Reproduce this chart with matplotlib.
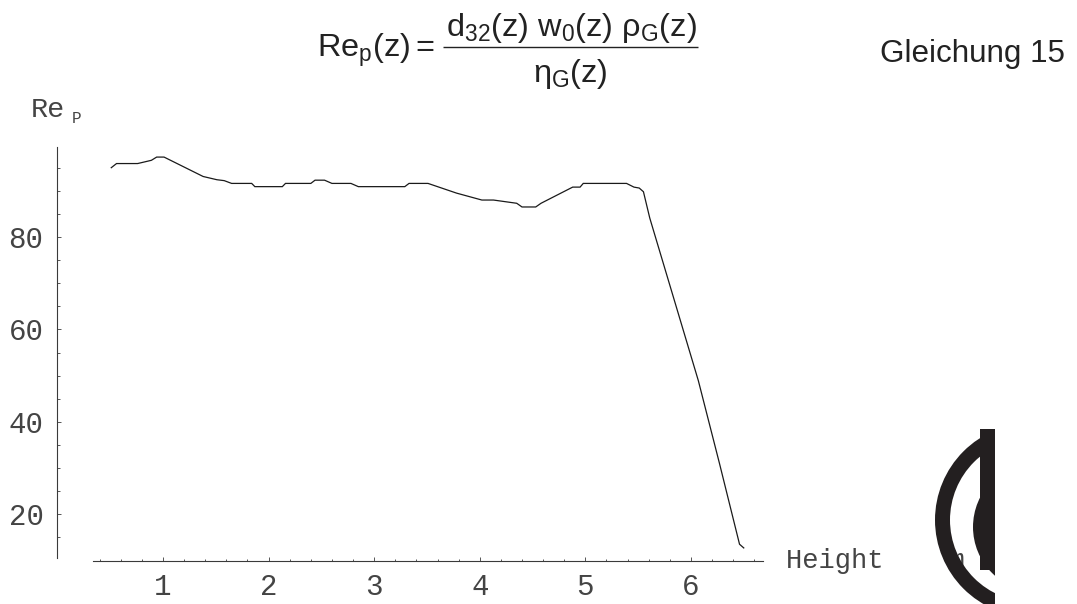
import matplotlib
matplotlib.use("Agg")
import matplotlib.pyplot as plt
from matplotlib.patches import Circle, Rectangle
from matplotlib.ticker import FixedLocator

# Particle Reynolds number along the column height
height_m = [0.51, 0.56, 0.76, 0.89, 0.94, 1.01, 1.38, 1.51, 1.58, 1.65, 1.84,
            1.87, 2.13, 2.16, 2.40, 2.44, 2.53, 2.60, 2.78, 2.85, 3.29, 3.33,
            3.51, 3.78, 4.02, 4.13, 4.35, 4.40, 4.53, 4.58, 4.88, 4.95, 4.98,
            5.39, 5.46, 5.51, 5.55, 5.61, 6.07, 6.27, 6.46, 6.50]
re_p = [95.0, 95.9, 95.9, 96.6, 97.3, 97.3, 93.1, 92.4, 92.2, 91.6, 91.6,
        90.9, 90.9, 91.6, 91.6, 92.3, 92.3, 91.6, 91.6, 90.9, 90.9, 91.6,
        91.6, 89.5, 88.0, 88.0, 87.3, 86.5, 86.5, 87.3, 90.8, 90.8, 91.6,
        91.6, 90.8, 90.6, 89.8, 84.1, 48.9, 31.0, 13.5, 12.7]

x_major = [1, 2, 3, 4, 5, 6]
x_minor = [0.4, 0.6, 0.8, 1.2, 1.4, 1.6, 1.8, 2.2, 2.4, 2.6, 2.8, 3.2, 3.4,
           3.6, 3.8, 4.2, 4.4, 4.6, 4.8, 5.2, 5.4, 5.6, 5.8, 6.2, 6.4, 6.6]
y_major = [20, 40, 60, 80]
y_minor = [15, 25, 30, 35, 45, 50, 55, 65, 70, 75, 85, 90, 95]

W, H = 1077, 604
fig = plt.figure(figsize=(W / 100, H / 100), dpi=100)
fig.patch.set_facecolor("white")

mono = "Liberation Mono"
sans = "Liberation Sans"
plt.rcParams["mathtext.fontset"] = "custom"
plt.rcParams["mathtext.rm"] = sans
plt.rcParams["mathtext.it"] = sans
plt.rcParams["mathtext.default"] = "regular"

axis_col = "#3a3a3a"
text_col = "#444444"

ax = fig.add_axes([0, 0, 1, 1])
ax.set_xlim(-0.5436, 9.656)
ax.set_ylim(0.563, 131.30)
ax.patch.set_alpha(0)

ax.plot(height_m, re_p, color="#1a1a1a", lw=0.9, solid_joinstyle="miter")

for s in ("top", "right"):
    ax.spines[s].set_visible(False)
ax.spines["left"].set_position(("data", 0))
ax.spines["left"].set_bounds(10.5, 99.5)
ax.spines["bottom"].set_position(("data", 9.9))
ax.spines["bottom"].set_bounds(0.34, 6.68)
for s in ("left", "bottom"):
    ax.spines[s].set_color(axis_col)
    ax.spines[s].set_linewidth(0.8)

ax.xaxis.set_major_locator(FixedLocator(x_major))
ax.xaxis.set_minor_locator(FixedLocator(x_minor))
ax.yaxis.set_major_locator(FixedLocator(y_major))
ax.yaxis.set_minor_locator(FixedLocator(y_minor))
ax.set_xticklabels([str(v) for v in x_major])
ax.set_yticklabels([str(v) for v in y_major])

ax.tick_params(axis="both", which="both", direction="in", color=axis_col,
               width=0.6, labelcolor=text_col)
ax.tick_params(axis="y", which="major", length=3.2, pad=10)
ax.tick_params(axis="y", which="minor", length=2.4)
ax.tick_params(axis="x", which="major", length=2.6, pad=9)
ax.tick_params(axis="x", which="minor", length=1.6)
for lab in ax.get_xticklabels() + ax.get_yticklabels():
    lab.set_fontfamily(mono)
    lab.set_fontsize(21)

# axis titles
ax.text(6.90, 8.35, "Height    m", fontfamily=mono, fontsize=19.5,
        color=text_col, ha="left", va="baseline")

# overlay in pixel units for the headline formula and the emblem
pix = fig.add_axes([0, 0, 1, 1])
pix.set_xlim(0, W)
pix.set_ylim(H, 0)
pix.axis("off")
pix.patch.set_alpha(0)

pix.text(30.7, 117.3, "Re", fontfamily=mono, fontsize=20.5, color=text_col,
         ha="left", va="baseline")
pix.text(71.7, 123.3, "P", fontfamily=mono, fontsize=11.5, color=text_col,
         ha="left", va="baseline")

fcol = "#222222"
pix.text(316.7, 56.7, r"$Re_{p}(z) = $", fontfamily=sans, fontsize=23.4,
         color=fcol, ha="left", va="baseline")
pix.text(571, 36, r"$d_{32}(z)\ w_{0}(z)\ ρ_{G}(z)$", fontfamily=sans,
         fontsize=23.4, color=fcol, ha="center", va="baseline")
pix.plot([443, 698], [46.7, 46.7], color=fcol, lw=1.0,
         solid_capstyle="butt")
pix.text(570, 81.7, r"$η_{G}(z)$", fontfamily=sans, fontsize=23.4,
         color=fcol, ha="center", va="baseline")
pix.text(880, 62, "Gleichung 15", fontfamily=sans, fontsize=22.6,
         color=fcol, ha="left", va="baseline")

# emblem at the lower right, cut off at its vertical bar
logo_col = "#231f20"
clip = Rectangle((0, 0), 995, H, transform=pix.transData)
ring = Circle((1032, 520), 97 - 7.5, facecolor="none", edgecolor=logo_col,
              lw=15 * 0.72, zorder=5)
lens = Circle((1038, 527), 65, facecolor=logo_col, edgecolor="none",
              zorder=5)
bar = Rectangle((980, 429.3), 15, 140.7, facecolor=logo_col,
                edgecolor="none", zorder=5)
for p in (ring, lens, bar):
    pix.add_patch(p)
    p.set_clip_path(clip)

fig.savefig("out.png", dpi=100, facecolor="white")
